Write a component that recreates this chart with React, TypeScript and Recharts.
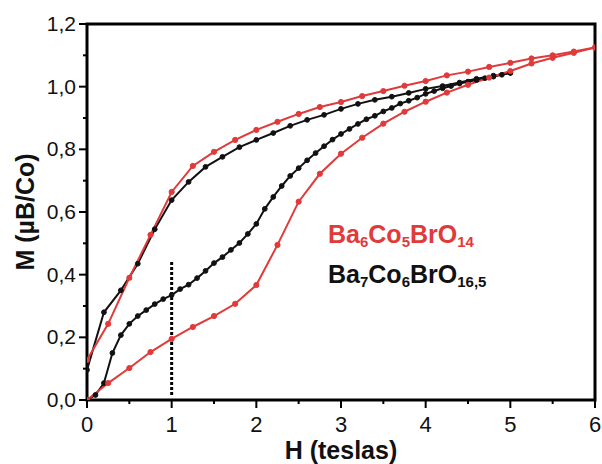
import React from "react";
import {
  LineChart,
  Line,
  XAxis,
  YAxis,
  ReferenceLine,
  ReferenceArea,
  Customized,
} from "recharts";

// ---- data ----
const redUpH = [0, 0.25, 0.5, 0.75, 1, 1.25, 1.5, 1.75, 2, 2.25, 2.5, 2.75, 3, 3.25, 3.5, 3.75, 4, 4.25, 4.5, 4.75, 5, 5.25, 5.5, 5.75, 6];
const redUpM = [0, 0.054, 0.102, 0.153, 0.195, 0.233, 0.268, 0.307, 0.367, 0.495, 0.633, 0.722, 0.786, 0.837, 0.882, 0.92, 0.952, 0.981, 1.006, 1.029, 1.05, 1.074, 1.092, 1.108, 1.125];

const redDownH = [6, 5.75, 5.5, 5.25, 5, 4.75, 4.5, 4.25, 4, 3.75, 3.5, 3.25, 3, 2.75, 2.5, 2.25, 2, 1.75, 1.5, 1.25, 1, 0.75, 0.5, 0.25, 0];
const redDownM = [1.125, 1.112, 1.1, 1.09, 1.076, 1.063, 1.048, 1.036, 1.018, 1.003, 0.986, 0.97, 0.951, 0.935, 0.913, 0.888, 0.862, 0.83, 0.792, 0.747, 0.664, 0.527, 0.39, 0.243, 0.128];

const blackUpH = [0, 0.1, 0.2, 0.3, 0.4, 0.5, 0.6, 0.7, 0.8, 0.9, 1, 1.1, 1.2, 1.3, 1.4, 1.5, 1.6, 1.7, 1.8, 1.9, 2, 2.1, 2.2, 2.3, 2.4, 2.5, 2.6, 2.7, 2.8, 2.9, 3, 3.1, 3.2, 3.3, 3.4, 3.5, 3.6, 3.7, 3.8, 3.9, 4, 4.1, 4.2, 4.3, 4.4, 4.5, 4.6, 4.7, 4.8, 4.9, 5];
const blackUpM = [0, 0.016, 0.054, 0.15, 0.207, 0.243, 0.268, 0.287, 0.306, 0.322, 0.335, 0.354, 0.368, 0.389, 0.412, 0.437, 0.456, 0.479, 0.501, 0.53, 0.562, 0.61, 0.648, 0.683, 0.715, 0.74, 0.765, 0.788, 0.81, 0.831, 0.849, 0.865, 0.881, 0.896, 0.907, 0.921, 0.932, 0.946, 0.955, 0.965, 0.977, 0.986, 0.995, 1.002, 1.01, 1.016, 1.021, 1.027, 1.032, 1.038, 1.044];

const blackDownH = [5, 4.8, 4.6, 4.4, 4.2, 4, 3.8, 3.6, 3.4, 3.2, 3, 2.8, 2.6, 2.4, 2.2, 2, 1.8, 1.6, 1.4, 1.2, 1, 0.8, 0.6, 0.4, 0.2, 0];
const blackDownM = [1.044, 1.035, 1.025, 1.013, 1.002, 0.993, 0.98, 0.968, 0.958, 0.945, 0.929, 0.91, 0.894, 0.875, 0.852, 0.83, 0.807, 0.776, 0.744, 0.696, 0.638, 0.545, 0.435, 0.35, 0.28, 0.096];

const markerH = 1;
const markerLow = 0.016;
const markerHigh = 0.447;

const xTicks = [0, 0.5, 1, 1.5, 2, 2.5, 3, 3.5, 4, 4.5, 5, 5.5, 6];
const yTicks = [0, 0.1, 0.2, 0.3, 0.4, 0.5, 0.6, 0.7, 0.8, 0.9, 1.0, 1.1, 1.2];
const yMajor = [0, 0.2, 0.4, 0.6, 0.8, 1.0, 1.2];

const xTitle = "H (teslas)";
const yTitle = "M (\u00b5B/Co)";

// ---- helpers ----
const zip = (hs: number[], ms: number[]) => hs.map((h, i) => ({ h, m: ms[i] }));
const redUp = zip(redUpH, redUpM);
const redDown = zip(redDownH, redDownM);
const blackUp = zip(blackUpH, blackUpM);
const blackDown = zip(blackDownH, blackDownM);

const RED = "#e03a3a";
const FONT = "'Liberation Sans', Arial, Helvetica, sans-serif";

const XTick = (props: any) => {
  const { x, y, payload } = props;
  const v = payload.value as number;
  const major = Math.abs(v - Math.round(v)) < 1e-6;
  return (
    <g>
      <line x1={x} x2={x} y1={y} y2={y + (major ? 8 : 4)} stroke="#000" strokeWidth={2} />
      {major && (
        <text x={x} y={y + 32} textAnchor="middle" fontSize={22} fontFamily={FONT} fill="#111">
          {String(v)}
        </text>
      )}
    </g>
  );
};

const YTick = (props: any) => {
  const { x, y, payload } = props;
  const v = payload.value as number;
  const major = yMajor.some((t) => Math.abs(t - v) < 1e-6);
  return (
    <g>
      <line x1={x} x2={x - (major ? 8 : 4)} y1={y} y2={y} stroke="#000" strokeWidth={2} />
      {major && (
        <text x={x - 11} y={y + 7} textAnchor="end" fontSize={21} fontFamily={FONT} fill="#111">
          {v.toFixed(1).replace(".", ",")}
        </text>
      )}
    </g>
  );
};

const Texts = () => (
  <g fontFamily={FONT} fontWeight="bold">
    <text x={341} y={459} textAnchor="middle" fontSize={25} fill="#111">
      {xTitle}
    </text>
    <text transform="translate(34,212) rotate(-90)" textAnchor="middle" fontSize={25} fill="#111">
      {yTitle}
    </text>
    <text x={328} y={243} fontSize={25} fill={RED}>
      Ba<tspan fontSize={15} dy={4}>6</tspan>
      <tspan dy={-4}>Co</tspan>
      <tspan fontSize={15} dy={4}>5</tspan>
      <tspan dy={-4}>BrO</tspan>
      <tspan fontSize={15} dy={4}>14</tspan>
    </text>
    <text x={328} y={283} fontSize={25} fill="#111">
      Ba<tspan fontSize={15} dy={4}>7</tspan>
      <tspan dy={-4}>Co</tspan>
      <tspan fontSize={15} dy={4}>6</tspan>
      <tspan dy={-4}>BrO</tspan>
      <tspan fontSize={15} dy={4}>16,5</tspan>
    </text>
  </g>
);

export default function App() {
  const dotRed = { r: 2.6, fill: RED, stroke: RED, strokeWidth: 1 };
  const dotBlack = { r: 2.4, fill: "#111", stroke: "#111", strokeWidth: 1 };
  return (
    <div style={{ position: "absolute", left: 0, top: 0, background: "#fff" }}>
      <LineChart width={602} height={464} margin={{ top: 24, right: 7, bottom: 0, left: 0 }}>
        <XAxis
          type="number"
          dataKey="h"
          domain={[0, 6]}
          ticks={xTicks}
          interval={0}
          height={64}
          axisLine={false}
          tickLine={false}
          tickSize={0}
          tickMargin={0}
          tick={XTick}
          allowDataOverflow
        />
        <YAxis
          type="number"
          dataKey="m"
          domain={[0, 1.2]}
          ticks={yTicks}
          interval={0}
          width={87}
          axisLine={false}
          tickLine={false}
          tickSize={0}
          tickMargin={0}
          tick={YTick}
          allowDataOverflow
        />
        <ReferenceArea x1={0} x2={6} y1={0} y2={1.2} fill="none" stroke="#000" strokeWidth={3} ifOverflow="visible" />
        <ReferenceLine
          segment={[
            { x: markerH, y: markerLow },
            { x: markerH, y: markerHigh },
          ]}
          stroke="#000"
          strokeWidth={3}
          strokeDasharray="3 2"
        />
        <Line data={blackUp} dataKey="m" type="linear" stroke="#111" strokeWidth={2} dot={dotBlack} isAnimationActive={false} />
        <Line data={blackDown} dataKey="m" type="linear" stroke="#111" strokeWidth={2} dot={dotBlack} isAnimationActive={false} />
        <Line data={redUp} dataKey="m" type="linear" stroke={RED} strokeWidth={2} dot={dotRed} isAnimationActive={false} />
        <Line data={redDown} dataKey="m" type="linear" stroke={RED} strokeWidth={2} dot={dotRed} isAnimationActive={false} />
        <Customized component={Texts} />
      </LineChart>
    </div>
  );
}
